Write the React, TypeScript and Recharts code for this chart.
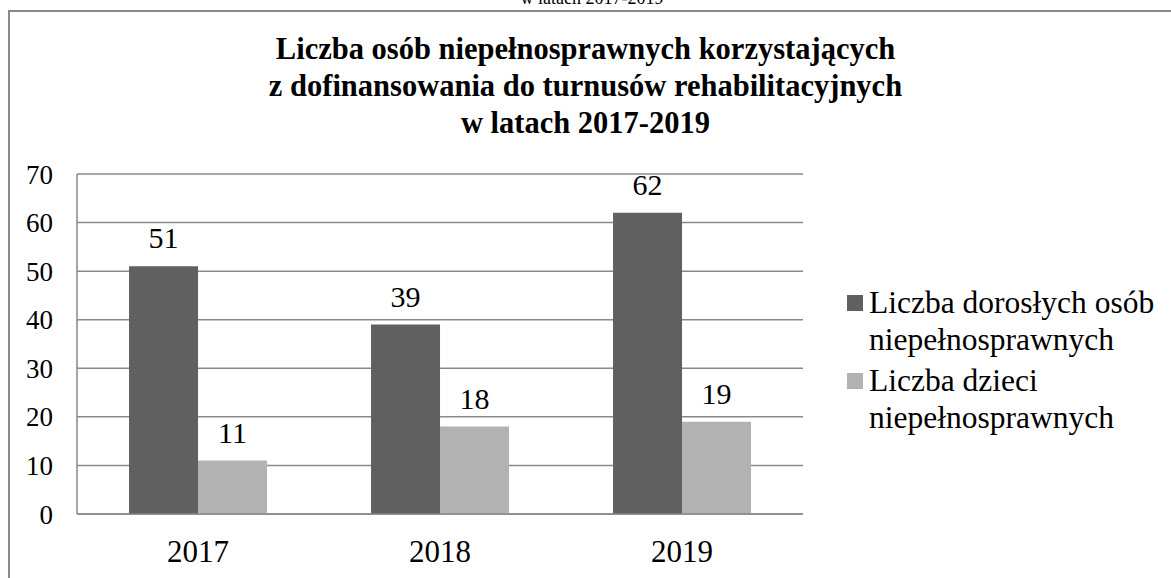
import React from "react";
import { Bar, BarChart, CartesianGrid, LabelList, XAxis, YAxis } from "recharts";

const years = ["2017", "2018", "2019"];
const adults = [51, 39, 62];
const children = [11, 18, 19];
const yTicks = [0, 10, 20, 30, 40, 50, 60, 70];

const legendItems = [
  { key: "adults", lines: ["Liczba dorosłych osób", "niepełnosprawnych"] },
  { key: "children", lines: ["Liczba dzieci", "niepełnosprawnych"] },
];

const DARK = "#606060";
const LIGHT = "#b2b2b2";
const GRID = "#898989";
const FONT = "Liberation Serif";

const chartData = years.map((year, i) => ({
  year,
  adults: adults[i],
  children: children[i],
}));

const colors = { adults: DARK, children: LIGHT };

export default function App() {
  return (
    <div
      style={{
        position: "absolute",
        left: 0,
        top: 0,
        width: 1171,
        height: 578,
        overflow: "hidden",
        background: "#fff",
        fontFamily: FONT,
      }}
    >
      {/* caption of the page above, cut off */}
      <div
        style={{
          position: "absolute",
          left: 0,
          width: 1184,
          top: -13,
          textAlign: "center",
          fontSize: 18,
          lineHeight: "22px",
        }}
      >
        w latach 2017-2019
      </div>
      <div
        style={{
          position: "absolute",
          left: 8,
          top: 10,
          width: 1200,
          height: 620,
          border: `2px solid ${GRID}`,
        }}
      />
      <div
        style={{
          position: "absolute",
          left: 0,
          width: 1171,
          top: 31,
          textAlign: "center",
          fontWeight: "bold",
          fontSize: 30.5,
          lineHeight: "37px",
        }}
      >
        <div>Liczba osób niepełnosprawnych korzystających</div>
        <div>z dofinansowania do turnusów rehabilitacyjnych</div>
        <div>w latach 2017-2019</div>
      </div>
      <BarChart
        width={1171}
        height={578}
        data={chartData}
        margin={{ top: 174, right: 368, bottom: 0, left: 0 }}
        barGap={0}
        barCategoryGap="21.5%"
        style={{ position: "absolute", left: 0, top: 0 }}
      >
        <CartesianGrid vertical={false} stroke={GRID} strokeWidth={1.5} />
        <XAxis
          dataKey="year"
          height={64}
          tickLine={false}
          tickSize={0}
          tickMargin={26}
          axisLine={{ stroke: GRID, strokeWidth: 1.5 }}
          tick={{ fill: "#000", fontSize: 31, fontFamily: FONT }}
        />
        <YAxis
          width={77}
          domain={[0, 70]}
          ticks={yTicks}
          interval={0}
          tickLine={false}
          tickSize={0}
          tickMargin={24}
          axisLine={{ stroke: GRID, strokeWidth: 1.5 }}
          tick={{ fill: "#000", fontSize: 27, fontFamily: FONT }}
        />
        <Bar dataKey="adults" fill={DARK} isAnimationActive={false}>
          <LabelList
            dataKey="adults"
            position="top"
            offset={18}
            fill="#000"
            fontSize={30}
            fontFamily={FONT}
          />
        </Bar>
        <Bar dataKey="children" fill={LIGHT} isAnimationActive={false}>
          <LabelList
            dataKey="children"
            position="top"
            offset={18}
            fill="#000"
            fontSize={30}
            fontFamily={FONT}
          />
        </Bar>
      </BarChart>
      <div
        style={{
          position: "absolute",
          left: 847,
          top: 284,
          fontSize: 31.5,
          color: "#000",
        }}
      >
        {legendItems.map((item) => (
          <div key={item.key} style={{ display: "flex", marginBottom: 4 }}>
            <div
              style={{
                width: 16,
                height: 16,
                background: colors[item.key as "adults" | "children"],
                marginTop: 11,
                marginRight: 6,
                flexShrink: 0,
              }}
            />
            <div style={{ lineHeight: "37px", whiteSpace: "nowrap" }}>
              {item.lines.map((l) => (
                <div key={l}>{l}</div>
              ))}
            </div>
          </div>
        ))}
      </div>
    </div>
  );
}
